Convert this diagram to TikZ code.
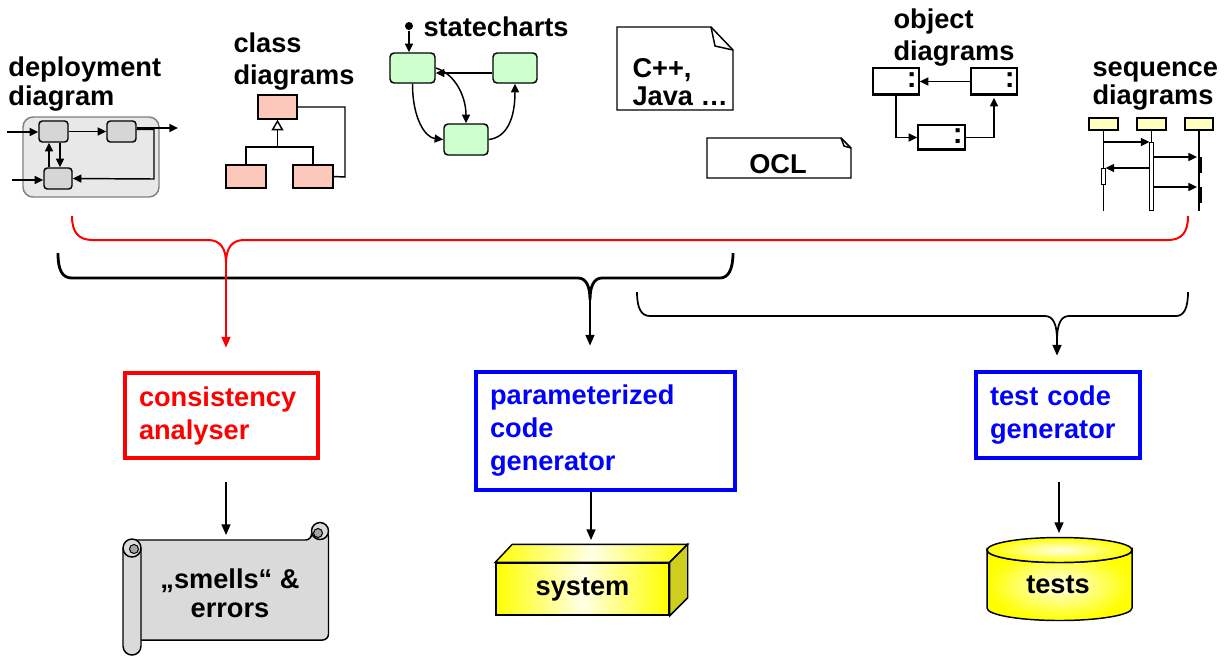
\documentclass[tikz,border=0pt]{standalone}
\usepackage{fontspec}
\setmainfont{Liberation Sans}
\usetikzlibrary{arrows.meta,positioning}

\definecolor{frameGray}{RGB}{232,232,232}
\definecolor{boxGray}{RGB}{214,214,214}
\definecolor{classPink}{RGB}{252,200,188}
\definecolor{stateGreen}{RGB}{204,255,204}
\definecolor{headYellow}{RGB}{255,255,192}
\definecolor{scrollGray}{RGB}{218,218,218}
\definecolor{curlGray}{RGB}{165,165,165}
\definecolor{sideYellow}{RGB}{206,206,30}

\tikzset{every picture/.style={line width=0.75pt}}
\tikzset{
  lbl/.style={font=\fontsize{20.4}{21.75}\selectfont\bfseries, inner sep=0pt, align=left},
  boxtxt/.style={font=\fontsize{20.4}{24.75}\selectfont\bfseries, align=left, inner xsep=10.5pt, inner ysep=0pt, line width=3.6pt},
  arr/.style={-{Triangle[length=8pt,width=6.75pt]}, line width=1.1pt},
  sarr/.style={-{Triangle[length=6.5pt,width=6pt]}, line width=1.1pt},
  dbox/.style={draw, fill=boxGray, rounded corners=2.5pt, minimum width=21.75pt, minimum height=15.75pt, inner sep=0pt, line width=1.1pt},
  cbox/.style={draw, fill=classPink, minimum width=30pt, minimum height=17.25pt, inner sep=0pt, line width=1.1pt},
  sbox/.style={draw, fill=stateGreen, rounded corners=3pt, minimum width=33.75pt, minimum height=22.5pt, inner sep=0pt, line width=1.1pt},
  obox/.style={draw, fill=white, minimum width=34.5pt, minimum height=20.25pt, inner sep=0pt, line width=1.1pt},
  hbox/.style={draw, fill=headYellow, minimum width=21.75pt, minimum height=9pt, inner sep=0pt, line width=1.1pt}
}

\begin{document}
\begin{tikzpicture}[x=0.75pt,y=0.75pt,yscale=-1,xscale=1]
        \useasboundingbox (0,0) rectangle (1226,658);

        % deployment diagram
        \node[lbl, anchor=base west] (depLbl) at (8,105) {deployment\\diagram};
        \draw[draw=gray, fill=frameGray, line width=1.1pt, rounded corners=7.5pt] (23,117) rectangle (159,197);
        \node[dbox] (dA) at (53.5,131.5) {};
        \node[dbox] (dB) at (121.5,131.5) {};
        \node[dbox, minimum width=21pt] (dC) at (58,178.5) {};
        \coordinate (dIn1) at (7,132);
        \coordinate (dIn2) at (12,180);
        \coordinate (dOut) at (178,128);
        \coordinate (dLoop) at (154,179);
        \draw[sarr] (dIn1) -- (dA.west |- dIn1);
        \draw[sarr] (dIn2) -- (dC.west |- dIn2);
        \draw[sarr] (dA) -- (dB);
        \draw[sarr] (dB.east |- dOut) -- (dOut);
        \draw[sarr] ([yshift=-1.5pt]dB.east) -| (dLoop) -- (dC.east);
        \draw[sarr] ([xshift=-6.75pt]dC.north) -- ([xshift=-6.75pt]dC.north |- dA.south);
        \draw[sarr] ([xshift=1.5pt]dC.north |- dA.south) -- ([xshift=1.5pt]dC.north);

        % class diagrams
        \node[lbl, anchor=base west, font=\fontsize{20.4}{24}\selectfont\bfseries] (clsLbl) at (233,84) {class\\diagrams};
        \node[cbox, minimum width=29.25pt, minimum height=18pt] (cTop) at (277.5,107) {};
        \node[cbox] (cL) at (246,176.5) {};
        \node[cbox] (cR) at (313,176.5) {};
        \coordinate (cJoin) at (277.5,147);
        \coordinate (cAssoc) at (345,177);
        \draw[line width=1.1pt] (cL.north) |- (cJoin) -| (cR.north);
        \draw[line width=1.1pt, -{Triangle[open,length=8pt,width=9pt]}] (cJoin) -- (cTop.south);
        \draw[line width=1.1pt] (cTop.east) -| (cAssoc) -- (cR.east);

        % statecharts
        \node[lbl, anchor=base west] (stLbl) at (423,36) {statecharts};
        \node[circle, fill, inner sep=0pt, minimum size=6pt] (sInit) at (409,26) {};
        \node[sbox] (s1) at (412.5,68) {};
        \node[sbox, minimum width=33pt] (s2) at (515,68) {};
        \node[sbox, minimum width=33pt, minimum height=23.25pt] (s3) at (466,139.5) {};
        \draw[sarr] (sInit) -- (sInit |- s1.north);
        \draw[sarr] ([yshift=3.75pt]s2.west) -- ([yshift=3.75pt]s1.east);
        \draw[sarr] (s1.east) .. controls +(20,6) and +(0,-26) .. (s3.north);
        \draw[sarr] (s1.south) .. controls +(0,35) and +(-18,-2) .. (s3.west);
        \draw[sarr] (s3.east) .. controls +(18,-2) and +(0,35) .. (s2.south);

        % notes
        \draw[fill=white, line width=1.1pt] (617,27) -- (711,27) -- (733,50) -- (733,110) -- (617,110) -- cycle;
        \draw[line width=1.1pt] (711,27) -- (715,46) -- (733,50);
        \node[lbl, anchor=base west, font=\fontsize{20.4}{21}\selectfont\bfseries] (cppLbl) at (632,105) {C++,\\Java …};
        \draw[fill=white, line width=1.1pt] (707,138) -- (841,138) -- (851,148) -- (851,178) -- (707,178) -- cycle;
        \draw[line width=1.1pt] (841,138) -- (844,146) -- (851,148);
        \node[lbl, anchor=base] (oclLbl) at (778,173) {OCL};

        % object diagrams
        \node[lbl, anchor=base west, font=\fontsize{20.4}{24}\selectfont\bfseries] (objLbl) at (893,60) {object\\diagrams};
        \node[obox] (o1) at (896,81.5) {};
        \node[obox] (o2) at (994,81.5) {};
        \node[obox, minimum width=35.25pt, minimum height=18.75pt] (o3) at (941.5,137.5) {};
        \foreach \o in {o1,o2,o3} {
          \draw[line width=2.25pt] ([xshift=1.5pt,yshift=-1.2pt]\o.south west) -- ([xshift=-1.5pt,yshift=-1.2pt]\o.south east);
          \node[inner sep=0pt, font=\fontsize{22}{22}\selectfont\bfseries] (\o-colon) at ([xshift=-6pt]\o.east) {\strut:};
        }
        \draw[sarr] (o2) -- (o1);
        \draw[sarr] (o1.south) |- (o3.west);
        \draw[sarr, shorten >=1.5pt] (o3.east) -| (o2.south);

        % sequence diagrams
        \node[lbl, anchor=base west, font=\fontsize{20.4}{21}\selectfont\bfseries] (seqLbl) at (1092,104) {sequence\\diagrams};
        \node[hbox] (sq1) at (1103.5,124) {};
        \node[hbox] (sq2) at (1151.5,124) {};
        \node[hbox, minimum width=21pt] (sq3) at (1199,124) {};
        \foreach \h in {sq1,sq2,sq3}
          \draw[line width=1.1pt] (\h.south) -- ++(0,80);
        \draw[fill=white] (1149.5,142) rectangle (1153.5,210);
        \draw[fill=white] (1101.5,168) rectangle (1105.5,184);
        \fill (1197.5,157) rectangle (1201.5,173);
        \fill (1197.5,187) rectangle (1201.5,203);
        \coordinate (m1) at (0,142);
        \coordinate (m2) at (0,157);
        \coordinate (m3) at (0,168);
        \coordinate (m4) at (0,187);
        \draw[sarr, shorten >=1.5pt] (sq1 |- m1) -- (sq2 |- m1);
        \draw[sarr, shorten <=1.5pt, shorten >=1.5pt] (sq2 |- m2) -- (sq3 |- m2);
        \draw[sarr, shorten <=1.5pt, shorten >=1.5pt] (sq2 |- m3) -- (sq1 |- m3);
        \draw[sarr, shorten <=1.5pt, shorten >=1.5pt] (sq2 |- m4) -- (sq3 |- m4);

        % braces
        \draw[red, line width=1.5pt] (72,216) .. controls (72,232) and (78,240) .. (93,240) -- (208,240) .. controls (220,240) and (226,248) .. (226,263) .. controls (226,248) and (232,240) .. (244,240) -- (1168,240) .. controls (1182,240) and (1188,232) .. (1188,216);
        \coordinate (redTip) at (226,263);
        \draw[line width=2.1pt] (58,253) .. controls (58,270) and (62,278) .. (72,278) -- (578,278) .. controls (586,278) and (590,286) .. (590,300) .. controls (590,286) and (594,278) .. (602,278) -- (720,278) .. controls (728,278) and (733,270) .. (733,253);
        \coordinate (blkTipA) at (590,300);
        \draw[line width=1.3pt] (637,292) .. controls (637,308) and (641,316) .. (650,316) -- (1045,316) .. controls (1053,316) and (1057,324) .. (1057,340) .. controls (1057,324) and (1061,316) .. (1069,316) -- (1176,316) .. controls (1184,316) and (1188,308) .. (1188,292);
        \coordinate (blkTipB) at (1057,340);

        % tools
        \node[boxtxt, draw=red, text=red, text width=123.75pt, minimum height=63.75pt] (cons) at (221.5,415.5) {consistency\\analyser};
        \node[boxtxt, draw=blue, text=blue, text width=173.25pt, minimum height=88.5pt] (pcg) at (605.5,431) {parameterized\\code\\generator};
        \node[boxtxt, draw=blue, text=blue, text width=102pt, minimum height=64.5pt] (tcg) at (1058,415) {test code\\generator};
        \draw[arr, red, shorten >=17.25pt] (redTip) -- (redTip |- cons.north);
        \draw[arr, shorten >=18pt] (blkTipA) -- (blkTipA |- pcg.north);
        \draw[arr, shorten >=10.5pt] (blkTipB) -- (blkTipB |- tcg.north);

        % results
        \coordinate (consOut) at (226,535);
        \coordinate (sysIn) at (591,540);
        \coordinate (testsIn) at (1059,533);
        \draw[arr, shorten <=16.5pt] (cons.south -| consOut) -- (consOut);
        \draw[arr] (pcg.south -| sysIn) -- (sysIn);
        \draw[arr, shorten <=16.5pt] (tcg.south -| testsIn) -- (testsIn);

        % scroll
        \draw[fill=scrollGray, line width=1.1pt, rounded corners=4.5pt] (132,540) -- (311.5,540) -- (311.5,531) -- (328.5,531) -- (328.5,640) -- (132,640);
        \draw[fill=scrollGray, line width=1.1pt, rounded corners=6.75pt] (123,548) -- (123,655) -- (141,655) -- (141,548);
        \draw[fill=scrollGray, line width=1.1pt] (132,548) circle (9);
        \draw[fill=curlGray, line width=0.75pt] (134,549) circle (4.5);
        \draw[fill=scrollGray, line width=1.1pt] (320,531) circle (8.5);
        \draw[fill=curlGray, line width=0.75pt] (318,533) circle (4.5);
        \node[lbl, align=center, anchor=base] (smells) at (230,617) {„smells“ \&\\errors};

        % system box
        \node[draw, line width=1.1pt, minimum width=129.75pt, minimum height=39pt, left color=yellow, right color=yellow, middle color=yellow!10, font=\fontsize{20.4}{24}\selectfont\bfseries] (system) at (582.5,589) {system};
        \draw[line width=1.1pt, left color=yellow, right color=yellow, middle color=yellow!10] (system.north west) -- ++(17,-18) -- ([shift={(18,-18)}]system.north east) -- (system.north east) -- cycle;
        \draw[line width=1.1pt, fill=sideYellow] (system.north east) -- ++(18,-18) -- ([shift={(18,-18)}]system.south east) -- (system.south east) -- cycle;

        % tests cylinder
        \draw[line width=1.1pt, inner color=yellow!10, outer color=yellow] (987,550) -- (987,608) arc[start angle=180, end angle=0, x radius=72.5, y radius=12.5] -- (1132,550) arc[start angle=0, end angle=180, x radius=72.5, y radius=12.5] -- cycle;
        \draw[line width=1.1pt, inner color=yellow!10, outer color=yellow] (1059.5,550) ellipse [x radius=72.5, y radius=12.5];
        \node[lbl, anchor=base] (tests) at (1058,593) {tests};

\end{tikzpicture}
\end{document}
